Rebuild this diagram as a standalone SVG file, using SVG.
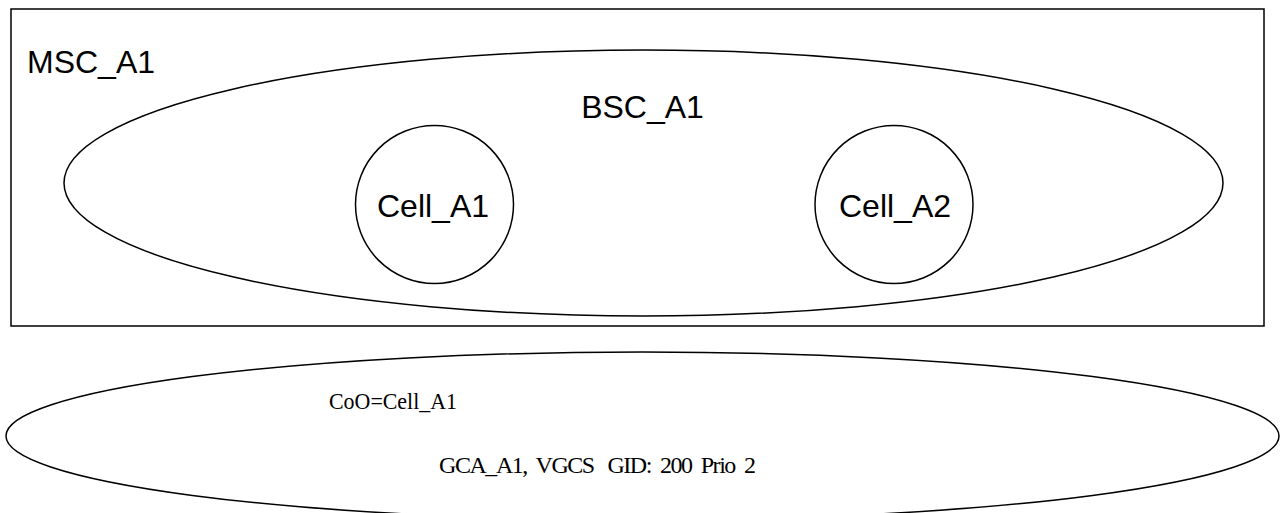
<svg xmlns="http://www.w3.org/2000/svg" width="1283" height="513" viewBox="0 0 1283 513">
<style>
.s{fill:none;stroke:#000;stroke-width:1.5}
.a{font-family:"Liberation Sans",Arial,sans-serif;font-size:32px;fill:#000}
.t{font-family:"Liberation Serif","Times New Roman",serif;font-size:24px;fill:#000}
</style>
<rect width="1283" height="513" fill="#fff"/>
<g id="msc">
<rect class="s" x="11" y="9" width="1253" height="317"/>
<text class="a" x="27" y="73">MSC_A1</text>
</g>
<g id="bsc">
<ellipse class="s" cx="643.5" cy="183" rx="579.5" ry="133"/>
<text class="a" x="642.5" y="118" text-anchor="middle">BSC_A1</text>
</g>
<g id="cell_a1">
<circle class="s" cx="434.5" cy="204.5" r="79"/>
<text class="a" x="433" y="217" text-anchor="middle">Cell_A1</text>
</g>
<g id="cell_a2">
<circle class="s" cx="894" cy="204.5" r="79"/>
<text class="a" x="895" y="217" text-anchor="middle">Cell_A2</text>
</g>
<g id="gca">
<ellipse class="s" cx="642.5" cy="436" rx="636.5" ry="84" stroke-width="2"/>
<text class="t" x="329" y="409" textLength="128" lengthAdjust="spacingAndGlyphs">CoO=Cell_A1</text>
<text class="t" x="439" y="473" textLength="317" lengthAdjust="spacing" xml:space="preserve">GCA_A1,  VGCS   GID:  200  Prio  2</text>
</g>
<g id="connectors"/>
</svg>
